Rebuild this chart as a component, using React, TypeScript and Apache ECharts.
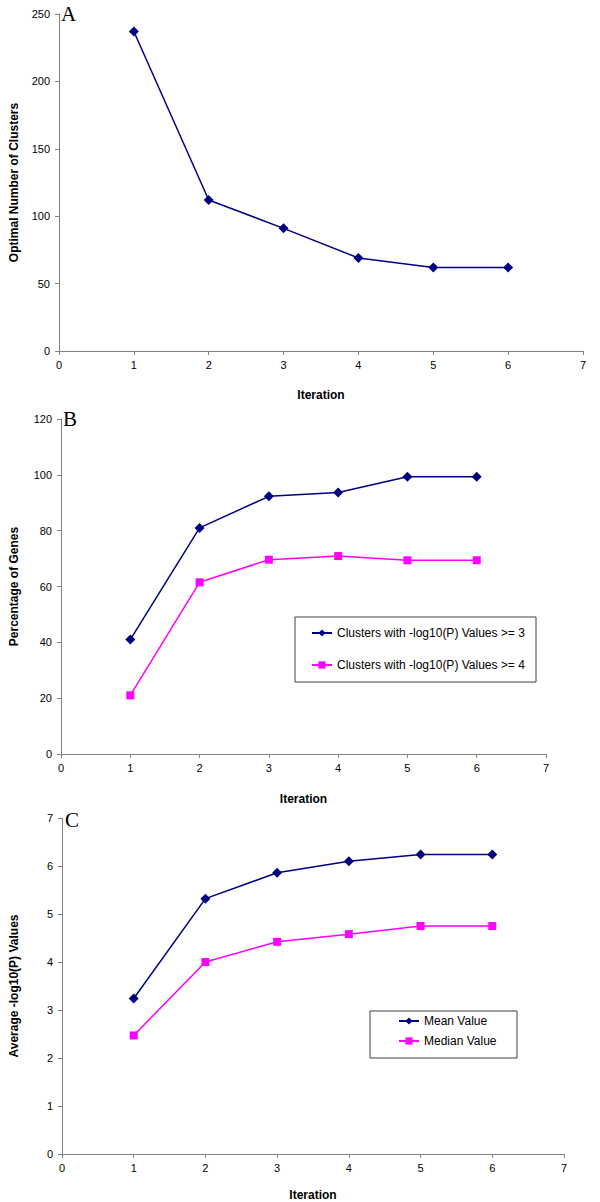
import React, { useEffect, useRef } from "react";
import * as echarts from "echarts";

const iterations = [1, 2, 3, 4, 5, 6];
const xTicks = [0, 1, 2, 3, 4, 5, 6, 7];
const clustersA = [237, 112, 91, 69, 62, 62];
const genesP3 = [41, 81, 92.3, 93.7, 99.3, 99.3];
const genesP4 = [21, 61.5, 69.6, 70.9, 69.4, 69.4];
const meanVals = [3.24, 5.32, 5.86, 6.1, 6.24, 6.24];
const medianVals = [2.47, 4.0, 4.42, 4.58, 4.75, 4.75];
const legendB = ["Clusters with -log10(P) Values >= 3", "Clusters with -log10(P) Values >= 4"];
const legendC = ["Mean Value", "Median Value"];

const NAVY = "#000080";
const MAGENTA = "#FF00FF";
const AXIS = "#808080";
const FONT = "'Liberation Sans', Arial, sans-serif";

function pairs(vals: number[]) {
  return iterations.map((x, i) => [x, vals[i]]);
}

function xAxisCfg(gridIndex: number, nameGap: number) {
  return {
    type: "value",
    gridIndex,
    min: xTicks[0],
    max: xTicks[xTicks.length - 1],
    interval: 1,
    name: "Iteration",
    nameLocation: "middle",
    nameGap,
    nameTextStyle: { fontFamily: FONT, fontSize: 12, fontWeight: "bold", color: "#000" },
    axisLine: { lineStyle: { color: AXIS, width: 1 } },
    axisTick: { show: true, length: 4, lineStyle: { color: AXIS } },
    axisLabel: { fontFamily: FONT, fontSize: 11, color: "#000", margin: 8 },
    splitLine: { show: false },
  };
}

function yAxisCfg(gridIndex: number, name: string, max: number, interval: number, nameGap: number) {
  return {
    type: "value",
    gridIndex,
    min: 0,
    max,
    interval,
    name,
    nameLocation: "middle",
    nameGap,
    nameTextStyle: { fontFamily: FONT, fontSize: 12, fontWeight: "bold", color: "#000" },
    axisLine: { show: true, lineStyle: { color: AXIS, width: 1 } },
    axisTick: { show: true, length: 4, lineStyle: { color: AXIS } },
    axisLabel: { fontFamily: FONT, fontSize: 11, color: "#000", margin: 9 },
    splitLine: { show: false },
  };
}

function lineSeries(name: string, idx: number, vals: number[], color: string, symbol: string, size: number) {
  return {
    type: "line",
    name,
    xAxisIndex: idx,
    yAxisIndex: idx,
    data: pairs(vals),
    symbol,
    symbolSize: size,
    showAllSymbol: true,
    lineStyle: { color, width: 1.5 },
    itemStyle: { color },
  };
}

export default function App() {
  const ref = useRef<HTMLDivElement>(null);
  useEffect(() => {
    if (!ref.current) return;
    const chart = echarts.init(ref.current, null, { renderer: "svg" });
    const letter = (text: string, x: number, y: number) => ({
      type: "text",
      left: x,
      top: y,
      style: { text, font: "21px 'Liberation Serif', 'Times New Roman', serif", fill: "#000" },
    });
    chart.setOption({
      animation: false,
      backgroundColor: "#fff",
      grid: [
        { left: 49, top: 14, width: 534, height: 337 },
        { left: 51, top: 419, width: 495, height: 335 },
        { left: 52, top: 818, width: 512, height: 336.5 },
      ],
      xAxis: [xAxisCfg(0, 38), xAxisCfg(1, 39), xAxisCfg(2, 35)],
      yAxis: [
        yAxisCfg(0, "Optimal Number of Clusters", 250, 50, 39),
        yAxisCfg(1, "Percentage of Genes", 120, 20, 41),
        yAxisCfg(2, "Average -log10(P) Values", 7, 1, 42),
      ],
      legend: [
        {
          data: legendB,
          orient: "vertical",
          left: 311,
          top: 627,
          itemWidth: 20,
          itemHeight: 9,
          itemGap: 20,
          padding: 0,
          textStyle: { fontFamily: FONT, fontSize: 12, color: "#000" },
          selectedMode: false,
        },
        {
          data: legendC,
          orient: "vertical",
          left: 398,
          top: 1015,
          itemWidth: 20,
          itemHeight: 9,
          itemGap: 8,
          padding: 0,
          textStyle: { fontFamily: FONT, fontSize: 12, color: "#000" },
          selectedMode: false,
        },
      ],
      graphic: [
        letter("A", 61, 3),
        letter("B", 63, 408),
        letter("C", 65, 809),
        {
          type: "rect",
          shape: { x: 295, y: 617, width: 241, height: 65 },
          style: { fill: "none", stroke: "#404040", lineWidth: 1 },
          z: -1,
        },
        {
          type: "rect",
          shape: { x: 370, y: 1011, width: 147, height: 47 },
          style: { fill: "none", stroke: "#404040", lineWidth: 1 },
          z: -1,
        },
      ],
      series: [
        lineSeries("Optimal", 0, clustersA, NAVY, "diamond", 10),
        lineSeries(legendB[0], 1, genesP3, NAVY, "diamond", 10),
        lineSeries(legendB[1], 1, genesP4, MAGENTA, "rect", 8),
        lineSeries(legendC[0], 2, meanVals, NAVY, "diamond", 10),
        lineSeries(legendC[1], 2, medianVals, MAGENTA, "rect", 8),
      ],
    });
    return () => chart.dispose();
  }, []);
  return (
    <div
      ref={ref}
      style={{ position: "absolute", left: 0, top: 0, width: 600, height: 1202, background: "#fff" }}
    />
  );
}
